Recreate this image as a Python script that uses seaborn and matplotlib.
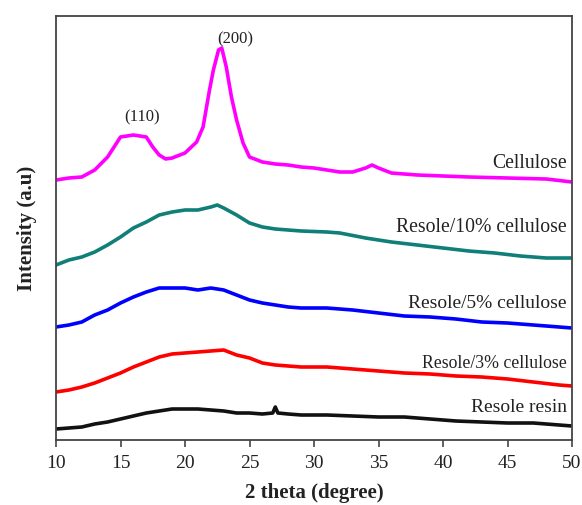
import matplotlib
matplotlib.use("Agg")
import matplotlib.pyplot as plt
import seaborn as sns
import pandas as pd

sns.set_style("white")
plt.rcParams["font.family"] = ["Liberation Serif", "DejaVu Serif"]

# ---- data (intensity in arbitrary units) ----
cell_x = [10, 11, 12, 13, 14, 15, 16, 17, 17.5, 18, 18.5, 19, 20, 20.9, 21.4, 21.9, 22.2, 22.6,
          22.85, 23.2, 23.6, 24, 24.5, 25, 26, 27, 28, 29, 30, 31, 32, 33, 34, 34.5, 35, 36, 37,
          38, 40, 42, 45, 48, 50]
cell_y = [260, 262, 263, 270, 283, 303, 305, 303, 293, 285, 281, 282, 287, 298, 313, 350, 370, 390,
          392, 373, 343, 320, 297, 283, 278, 276, 275, 273, 272, 270, 268, 268, 272, 275, 272, 267, 266,
          265, 264, 263, 262, 261, 258]

c10_x = [10, 11, 12, 13, 14, 15, 16, 17, 18, 19, 20, 21, 22, 22.5, 23, 24, 25, 26, 27, 28, 29,
         31, 32, 34, 36, 38, 40, 42, 44, 46, 48, 50]
c10_y = [175, 180, 183, 188, 195, 203, 212, 218, 225, 228, 230, 230, 233, 235, 232, 225, 217, 213,
         211, 210, 209, 208, 207, 202, 198, 195, 192, 189, 187, 184, 182, 182]

c5_x = [10, 11, 12, 13, 14, 15, 16, 17, 18, 19, 20, 21, 22, 23, 24, 25, 26, 27, 28, 29,
        31, 33, 35, 37, 39, 41, 43, 45, 47, 49, 50]
c5_y = [113, 115, 118, 125, 130, 137, 143, 148, 152, 152, 152, 150, 152, 150, 145, 140, 137, 135,
        133, 132, 132, 130, 127, 124, 123, 121, 118, 117, 115, 113, 112]

c3_x = [10, 11, 12, 13, 14, 15, 16, 17, 18, 19, 20, 21, 22, 23, 24, 25, 26, 27, 28, 29,
        31, 33, 35, 37, 39, 41, 43, 45, 47, 49, 50]
c3_y = [48, 50, 53, 57, 62, 67, 73, 78, 83, 86, 87, 88, 89, 90, 85, 82, 77, 75, 74, 73,
        73, 71, 69, 67, 66, 64, 63, 61, 58, 55, 54]

resin_x = [10, 11, 12, 13, 14, 15, 16, 17, 18, 19, 20, 21, 22, 23, 24, 25, 26, 26.8, 27, 27.2,
           28, 29, 31, 33, 35, 37, 39, 41, 43, 45, 47, 49, 50]
resin_y = [11, 12, 13, 16, 18, 21, 24, 27, 29, 31, 31, 31, 30, 29, 27, 27, 26, 27, 33, 27,
           26, 25, 25, 24, 23, 23, 21, 19, 18, 17, 17, 15, 14]

series_names = ["Cellulose", "Resole/10% cellulose", "Resole/5% cellulose",
                "Resole/3% cellulose", "Resole resin"]
series_x = [cell_x, c10_x, c5_x, c3_x, resin_x]
series_y = [cell_y, c10_y, c5_y, c3_y, resin_y]
colors = ["#ff00ff", "#0f7f78", "#0000ff", "#ff0000", "#111111"]
label_y = [277, 212, 137, 77, 33]
label_size = [14.2, 14.2, 14, 12.8, 14]

peak_labels = ["(110)", "(200)"]
peak_x = [16.7, 23.9]
peak_y = [323, 401]

xticks = [10, 15, 20, 25, 30, 35, 40, 45, 50]

# ---- figure ----
fig = plt.figure(figsize=(5.82, 5.05), dpi=100)
ax = fig.add_axes([56 / 582, 65 / 505, 516 / 582, 424 / 505])

for name, xs, ys, col in zip(series_names, series_x, series_y, colors):
    df = pd.DataFrame({"x": xs, "y": ys})
    sns.lineplot(data=df, x="x", y="y", ax=ax, color=col, linewidth=2.6, sort=False)

txt_col = "#222222"
for name, ly, fs in zip(series_names, label_y, label_size):
    ax.text(49.6, ly, name, ha="right", va="center", fontsize=fs, color=txt_col)
for lab, px, py in zip(peak_labels, peak_x, peak_y):
    ax.text(px, py, lab, ha="center", va="center", fontsize=12, color=txt_col)

ax.set_xlim(10, 50)
ax.set_ylim(0, 424)
ax.set_xticks(xticks)
ax.set_xticklabels([str(t) for t in xticks], fontsize=14, color=txt_col)
ax.set_yticks([])
ax.tick_params(axis="x", direction="out", length=5, width=1.2, color="#444444",
               bottom=True, top=False, pad=6)
for sp in ax.spines.values():
    sp.set_color("#444444")
    sp.set_linewidth(1.3)
ax.set_xlabel("2 theta (degree)", fontsize=15, fontweight="bold", color=txt_col, labelpad=8)
ax.set_ylabel("Intensity (a.u)", fontsize=15, fontweight="bold", color=txt_col, labelpad=14)

fig.savefig("out.png", dpi=100)
